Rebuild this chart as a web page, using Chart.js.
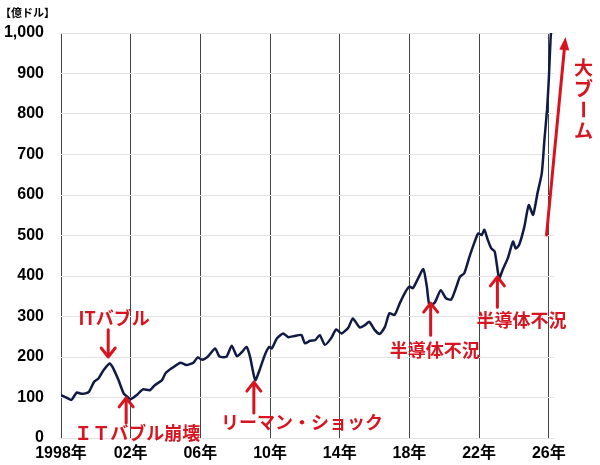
<!DOCTYPE html>
<html>
<head>
<meta charset="utf-8">
<script src="https://cdn.jsdelivr.net/npm/chart.js@4.4.1/dist/chart.umd.min.js"></script>
<style>
  body { margin: 0; background: #fff; }
  #wrap { width: 600px; height: 465px; }
</style>
</head>
<body>
<div id="wrap"><canvas id="chart"></canvas></div>
<script>
// 半導体売上高の推移（億ドル）、横軸は年
const years = [
  1998.0, 1998.25, 1998.6, 1998.9, 1999.2, 1999.6, 1999.9, 2000.15, 2000.45, 2000.8,
  2001.0, 2001.3, 2001.6, 2001.85, 2002.0, 2002.35, 2002.7, 2003.1, 2003.4, 2003.8,
  2004.0, 2004.35, 2004.85, 2005.2, 2005.6, 2005.85, 2006.1, 2006.45, 2006.85, 2007.1,
  2007.5, 2007.8, 2008.1, 2008.4, 2008.65, 2008.85, 2009.15, 2009.4, 2009.7, 2009.95,
  2010.1, 2010.4, 2010.75, 2011.05, 2011.4, 2011.8, 2012.0, 2012.3, 2012.6, 2012.85,
  2013.15, 2013.5, 2013.8, 2014.1, 2014.5, 2014.75, 2015.15, 2015.45, 2015.7, 2016.0,
  2016.3, 2016.6, 2016.85, 2017.15, 2017.45, 2017.75, 2018.0, 2018.2, 2018.5, 2018.8,
  2019.0, 2019.15, 2019.45, 2019.8, 2020.1, 2020.4, 2020.7, 2020.9, 2021.15, 2021.45,
  2021.75, 2021.95, 2022.15, 2022.3, 2022.5, 2022.7, 2022.9, 2023.15, 2023.35, 2023.65,
  2023.95, 2024.1, 2024.3, 2024.6, 2024.85, 2025.1, 2025.35, 2025.6, 2025.75, 2025.9,
  2026.0, 2026.1, 2026.2
];
const sales = [
  106, 101, 94, 112, 109, 114, 139, 147, 168, 184,
  172, 143, 110, 100, 96, 106, 120, 118, 131, 143,
  160, 172, 186, 180, 186, 199, 193, 202, 221, 201,
  201, 228, 202, 213, 225, 201, 143, 168, 205, 225,
  221, 246, 258, 249, 252, 254, 234, 240, 242, 254,
  230, 246, 268, 258, 273, 295, 273, 279, 287, 267,
  257, 275, 308, 304, 333, 359, 374, 370, 394, 417,
  374, 328, 334, 365, 345, 342, 374, 398, 407, 448,
  485, 505, 501, 514, 489, 468, 460, 394, 415, 444,
  485, 468, 477, 522, 575, 551, 604, 654, 736, 810,
  884, 983, 1040
];
const xTicks = [1998, 2002, 2006, 2010, 2014, 2018, 2022, 2026];
const xTickLabels = ["1998年", "02年", "06年", "10年", "14年", "18年", "22年", "26年"];

// 注記（年, 億ドル の位置）
const noteTexts = ["ITバブル", "ＩＴバブル崩壊", "リーマン・ショック", "半導体不況", "半導体不況"];
const noteX = [2001.05, 2002.37, 2011.83, 2019.45, 2024.43];
const noteY = [296, 12, 40, 217, 291];
const arrowX = [2000.71, 2001.74, 2009.07, 2019.22, 2023.05];
const arrowFrom = [267, 37, 62, 254, 323];
const arrowTo = [200, 99, 138, 333, 398];

const RED = "#d7141f";
const CJK = "'Noto Sans CJK JP', sans-serif";

const notesPlugin = {
  id: "notes",
  afterDraw(chart) {
    const { ctx } = chart;
    const x = chart.scales.x;
    const y = chart.scales.y;
    ctx.save();

    // 単位
    ctx.fillStyle = "#000";
    ctx.font = "bold 11px " + CJK;
    ctx.textAlign = "left";
    ctx.textBaseline = "middle";
    ctx.fillText("【億ドル】", 0, 13);

    ctx.strokeStyle = RED;
    ctx.fillStyle = RED;
    ctx.lineWidth = 3;
    ctx.lineCap = "round";
    ctx.lineJoin = "round";

    // 矢印
    arrowX.forEach((ax, i) => {
      const px = x.getPixelForValue(ax);
      const y1 = y.getPixelForValue(arrowFrom[i]);
      const y2 = y.getPixelForValue(arrowTo[i]);
      const dir = y2 > y1 ? 1 : -1;
      ctx.beginPath();
      ctx.moveTo(px, y1);
      ctx.lineTo(px, y2);
      ctx.moveTo(px - 7, y2 - dir * 9);
      ctx.lineTo(px, y2);
      ctx.lineTo(px + 7, y2 - dir * 9);
      ctx.stroke();
    });

    // 注記テキスト
    ctx.font = "bold 18px " + CJK;
    ctx.textAlign = "center";
    ctx.textBaseline = "middle";
    noteTexts.forEach((t, i) => {
      ctx.fillText(t, x.getPixelForValue(noteX[i]), y.getPixelForValue(noteY[i]));
    });

    // 大ブームの矢印
    const bx1 = x.getPixelForValue(2025.87), by1 = y.getPixelForValue(501);
    const bx2 = x.getPixelForValue(2026.96), by2 = y.getPixelForValue(990);
    const ang = Math.atan2(by2 - by1, bx2 - bx1);
    ctx.beginPath();
    ctx.moveTo(bx1, by1);
    ctx.lineTo(bx2 - 8 * Math.cos(ang), by2 - 8 * Math.sin(ang));
    ctx.stroke();
    ctx.beginPath();
    ctx.moveTo(bx2, by2);
    ctx.lineTo(bx2 - 13 * Math.cos(ang) + 5 * Math.sin(ang), by2 - 13 * Math.sin(ang) - 5 * Math.cos(ang));
    ctx.lineTo(bx2 - 13 * Math.cos(ang) - 5 * Math.sin(ang), by2 - 13 * Math.sin(ang) + 5 * Math.cos(ang));
    ctx.closePath();
    ctx.fill();

    // 縦書き「大ブーム」
    const vx = x.getPixelForValue(2028.0);
    let vy = y.getPixelForValue(915);
    ctx.font = "bold 19px " + CJK;
    for (const ch of "大ブーム") {
      if (ch === "ー") {
        ctx.save();
        ctx.translate(vx, vy);
        ctx.rotate(Math.PI / 2);
        ctx.fillText(ch, 0, 0);
        ctx.restore();
      } else {
        ctx.fillText(ch, vx, vy);
      }
      vy += 21;
    }
    ctx.restore();
  },
};

Chart.defaults.font.family = "'Liberation Sans', 'Noto Sans CJK JP', sans-serif";
Chart.defaults.font.size = 16;
Chart.defaults.font.weight = "bold";
Chart.defaults.color = "#000";

new Chart(document.getElementById("chart"), {
  type: "line",
  data: {
    datasets: [
      {
        data: years.map((yr, i) => ({ x: yr, y: sales[i] })),
        borderColor: "#111a44",
        borderWidth: 2.5,
        pointRadius: 0,
        tension: 0.2,
        fill: false,
      },
    ],
  },
  options: {
    responsive: true,
    maintainAspectRatio: false,
    animation: false,
    layout: { padding: { top: 33, right: 46, left: 0, bottom: 0 } },
    plugins: {
      legend: false,
      tooltip: { enabled: false },
    },
    scales: {
      x: {
        type: "linear",
        min: 1998,
        max: 2026.3,
        afterBuildTicks: (scale) => {
          scale.ticks = xTicks.map((v) => ({ value: v }));
        },
        afterFit: (scale) => {
          scale.height = 27;
        },
        ticks: {
          autoSkip: false,
          maxRotation: 0,
          padding: 6,
          callback: (v) => xTickLabels[xTicks.indexOf(v)],
        },
        grid: { color: "#444", lineWidth: 1, drawTicks: false },
        border: { display: false },
      },
      y: {
        min: 0,
        max: 1000,
        afterFit: (scale) => {
          scale.width = 61;
        },
        ticks: {
          stepSize: 100,
          padding: 17,
          callback: (v) => v.toLocaleString("en-US"),
        },
        grid: { color: "#e2e2e2", lineWidth: 1, drawTicks: false },
        border: { display: false },
      },
    },
  },
  plugins: [notesPlugin],
});
</script>
</body>
</html>
